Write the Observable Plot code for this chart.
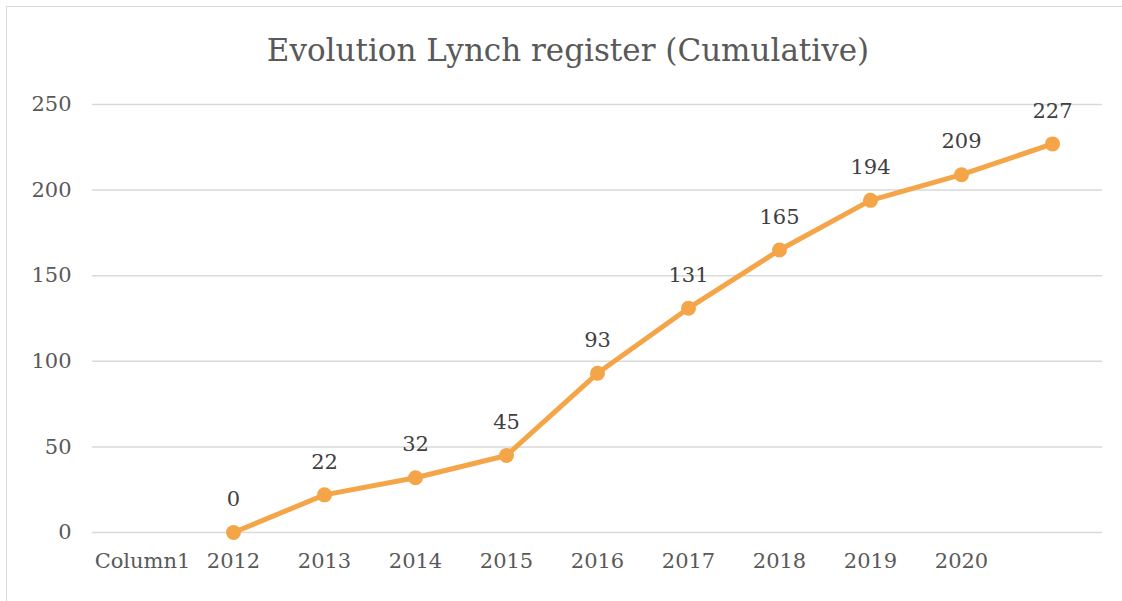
<!DOCTYPE html>
<html>
<head>
<meta charset="utf-8">
<script src="https://cdn.jsdelivr.net/npm/d3@7"></script>
<script src="https://cdn.jsdelivr.net/npm/@observablehq/plot@0.6"></script>
<style>
  html, body { margin: 0; padding: 0; background: #fff; }
  #wrap { position: relative; width: 1122px; height: 601px; overflow: hidden; background: #fff; }
  #frame { position: absolute; left: 6px; top: 6px; width: 1130px; height: 610px; border: 1.5px solid #D9D9D9; box-sizing: border-box; }
  #title { position: absolute; left: 7px; top: 0; width: 1122px; height: 90px; text-align: center;
           font-family: "DejaVu Serif", serif; font-size: 31px; color: #595959; line-height: 100px; }
  #chart { position: absolute; left: 0; top: 90px; }
</style>
</head>
<body>
<div id="wrap">
  <div id="frame"></div>
  <div id="title">Evolution Lynch register (Cumulative)</div>
  <div id="chart"></div>
</div>
<script>
const categories = ["Column1", "2012", "2013", "2014", "2015", "2016", "2017", "2018", "2019", "2020", " "];
const values = [null, 0, 22, 32, 45, 93, 131, 165, 194, 209, 227];
const yTicks = [0, 50, 100, 150, 200, 250];

const data = categories.map((c, i) => ({category: c, value: values[i]}));
const pts = data.filter(d => d.value != null);

const chart = Plot.plot({
  width: 1122,
  height: 511,
  marginLeft: 92,
  marginRight: 20,
  marginTop: 14,
  marginBottom: 69,
  style: {fontFamily: "DejaVu Serif, serif", fontSize: "21px", color: "#595959", background: "transparent"},
  x: {type: "point", domain: categories, padding: 0.5, label: null},
  y: {domain: [0, 250], ticks: yTicks, label: null},
  marks: [
    Plot.ruleY(yTicks, {stroke: "#D9D9D9", strokeWidth: 1.5}),
    Plot.axisY({ticks: yTicks, tickSize: 0, tickPadding: 21, label: null, fill: "#595959", fontSize: 21}),
    Plot.axisX({tickSize: 0, tickPadding: 21, label: null, fill: "#595959", fontSize: 21}),
    Plot.line(pts, {x: "category", y: "value", stroke: "#F4A548", strokeWidth: 5, strokeLinejoin: "round", strokeLinecap: "round"}),
    Plot.dot(pts, {x: "category", y: "value", r: 7.5, fill: "#F4A548", stroke: "none"}),
    Plot.text(pts, {x: "category", y: "value", text: d => String(d.value), dy: -33, fill: "#404040", fontSize: 21})
  ]
});
document.getElementById("chart").appendChild(chart);
</script>
</body>
</html>
